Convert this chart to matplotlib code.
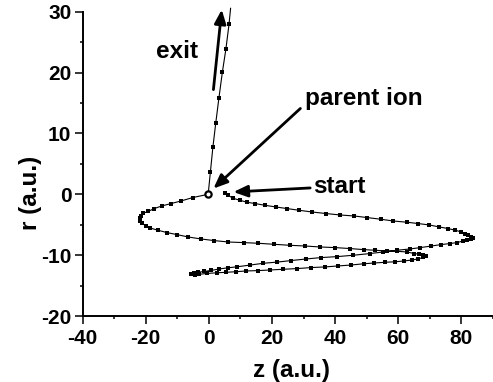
import matplotlib
matplotlib.use("Agg")
import matplotlib.pyplot as plt
from matplotlib.ticker import MultipleLocator

plt.rcParams['font.family'] = ['Liberation Sans', 'DejaVu Sans']
plt.rcParams['font.weight'] = 'bold'
plt.rcParams['axes.unicode_minus'] = False

# ---- trajectory data (z, r in a.u.) ----
# leg 1: start -> right turning point
leg1_z = [5.2, 6.1, 7.7, 9.9, 12.1, 14.7, 17.8, 21.3, 24.8, 28.6, 32.7, 37.2, 41.6, 46.1,
          50.2, 54.6, 58.4, 62.9, 66.3, 69.8, 73.0, 75.9, 78.1, 80.0, 81.2, 82.2, 83.1]
leg1_r = [0.21, -0.16, -0.66, -0.99, -1.31, -1.53, -1.81, -2.09, -2.35, -2.63, -2.91, -3.17,
          -3.40, -3.57, -3.83, -4.11, -4.39, -4.60, -4.81, -5.04, -5.37, -5.64, -5.92, -6.19,
          -6.46, -6.74, -6.98]
# leg 2: right turning point -> small left turning point
leg2_z = [83.8, 83.1, 81.8, 80.5, 78.6, 76.3, 73.5, 70.5, 67.0, 63.6, 59.6, 55.3, 51.0, 45.7,
          40.7, 35.6, 30.8, 26.1, 21.7, 17.2, 13.1, 9.0, 6.1, 3.3, 0.7, -1.5, -3.4, -4.7, -5.6]
leg2_r = [-7.15, -7.31, -7.44, -7.67, -7.94, -8.10, -8.27, -8.50, -8.76, -8.99, -9.20, -9.48,
          -9.74, -10.02, -10.24, -10.40, -10.63, -10.89, -11.14, -11.34, -11.63, -11.91, -12.08,
          -12.27, -12.52, -12.68, -12.82, -12.95, -13.11]
# leg 3: small left turning point -> second right turning point
leg3_z = [-4.5, -3.1, -0.6, 2.5, 5.5, 8.7, 11.8, 15.6, 19.4, 23.6, 28.0, 32.4, 36.7, 40.8,
          44.9, 49.0, 52.2, 55.9, 59.1, 61.7, 64.3, 66.4, 67.9, 68.7]
leg3_r = [-13.19, -13.15, -13.01, -12.90, -12.82, -12.72, -12.60, -12.54, -12.44, -12.32,
          -12.21, -12.04, -11.94, -11.78, -11.63, -11.42, -11.30, -11.17, -11.09, -10.96,
          -10.81, -10.60, -10.38, -10.19]
# leg 4: second right turning point -> big left loop -> parent ion
leg4_z = [67.9, 66.7, 65.1, 62.8, 59.6, 56.4, 52.7, 49.0, 44.8, 40.0, 35.3, 30.5, 25.6, 20.7,
          15.7, 11.0, 6.2, 1.7, -2.5, -6.5, -10.1, -13.3, -16.0, -18.6, -20.0, -21.1, -21.8,
          -21.9, -21.6, -20.8, -19.1, -17.3, -14.9, -12.0, -8.8, -5.1]
leg4_r = [-10.02, -9.86, -9.74, -9.48, -9.37, -9.32, -9.20, -9.09, -8.92, -8.76, -8.66, -8.50,
          -8.38, -8.22, -8.05, -7.94, -7.84, -7.61, -7.34, -7.02, -6.62, -6.29, -5.92, -5.54,
          -5.18, -4.77, -4.35, -3.94, -3.53, -3.12, -2.79, -2.35, -1.92, -1.53, -1.10, -0.54]
# parent ion
ion_z, ion_r = -0.2, 0.0
# exit leg (last point is the line end, no marker)
exit_z = [0.5, 1.3, 2.2, 3.2, 4.3, 5.4, 6.4, 6.9]
exit_r = [3.66, 7.77, 11.71, 15.82, 20.09, 23.82, 27.93, 30.56]

x_ticks = [-40, -20, 0, 20, 40, 60, 80]
y_ticks = [-20, -10, 0, 10, 20, 30]

fig = plt.figure(figsize=(4.93, 3.82), dpi=100)
ax = fig.add_axes([82.5 / 493, 1 - 316 / 382, (493 - 82.5) / 493, (316 - 11.7) / 382])

traj_z = leg1_z + leg2_z + leg3_z + leg4_z
traj_r = leg1_r + leg2_r + leg3_r + leg4_r

# connecting thin line through the whole path
line_z = traj_z + [ion_z] + exit_z
line_r = traj_r + [ion_r] + exit_r
ax.plot(line_z, line_r, color='k', lw=0.8, clip_on=False, zorder=2)
# square markers
mark_z = traj_z + exit_z[:-1]
mark_r = traj_r + exit_r[:-1]
ax.plot(mark_z, mark_r, ls='none', marker='s', ms=3.2, color='k', mew=0, zorder=3)
# parent ion
ax.plot([ion_z], [ion_r], ls='none', marker='o', ms=4.5, mfc='white', mec='k', mew=1.6, zorder=4)

# annotations
arrow = dict(arrowstyle='-|>,head_length=0.6,head_width=0.25', lw=2.0, color='k',
             shrinkA=0, shrinkB=0, mutation_scale=14)
ax.annotate('', xy=(4.1, 30.35), xytext=(1.46, 17.2), arrowprops=arrow, annotation_clip=False)
ax.text(-10.05, 23.4, 'exit', ha='center', va='center', fontsize=17.5, fontweight='bold')
ax.annotate('', xy=(1.46, 0.94), xytext=(29.0, 14.1), arrowprops=arrow, annotation_clip=False)
ax.text(30.6, 15.7, 'parent ion', ha='left', va='center', fontsize=17.5, fontweight='bold')
ax.annotate('', xy=(7.8, 0.38), xytext=(32.1, 1.04), arrowprops=arrow, annotation_clip=False)
ax.text(33.0, 1.2, 'start', ha='left', va='center', fontsize=17.5, fontweight='bold')

ax.set_xlim(-40, 90)
ax.set_ylim(-20, 30)
ax.set_xticks(x_ticks)
ax.set_yticks(y_ticks)
ax.xaxis.set_minor_locator(MultipleLocator(10))
ax.yaxis.set_minor_locator(MultipleLocator(5))
ax.tick_params(which='major', direction='out', length=5.5, width=1.1, labelsize=15, pad=2.5)
ax.tick_params(which='minor', direction='out', length=2.5, width=1.1)
ax.tick_params(axis='x', which='major', pad=3.5)
for lab in ax.get_xticklabels() + ax.get_yticklabels():
    lab.set_fontweight('bold')

for s in ['top', 'right']:
    ax.spines[s].set_visible(False)
for s in ['left', 'bottom']:
    ax.spines[s].set_linewidth(1.4)

ax.set_xlabel('z (a.u.)', fontsize=17.5, fontweight='bold')
ax.set_ylabel('r (a.u.)', fontsize=17.5, fontweight='bold')
ax.xaxis.label.set_va('center')
ax.yaxis.label.set_va('center')
ax.xaxis.set_label_coords((291.7 - 82.5) / 410.5, -(371 - 316) / 304.3)
ax.yaxis.set_label_coords(-(82.5 - 30) / 410.5, (316 - 193) / 304.3)

fig.savefig('out.png', dpi=100)
